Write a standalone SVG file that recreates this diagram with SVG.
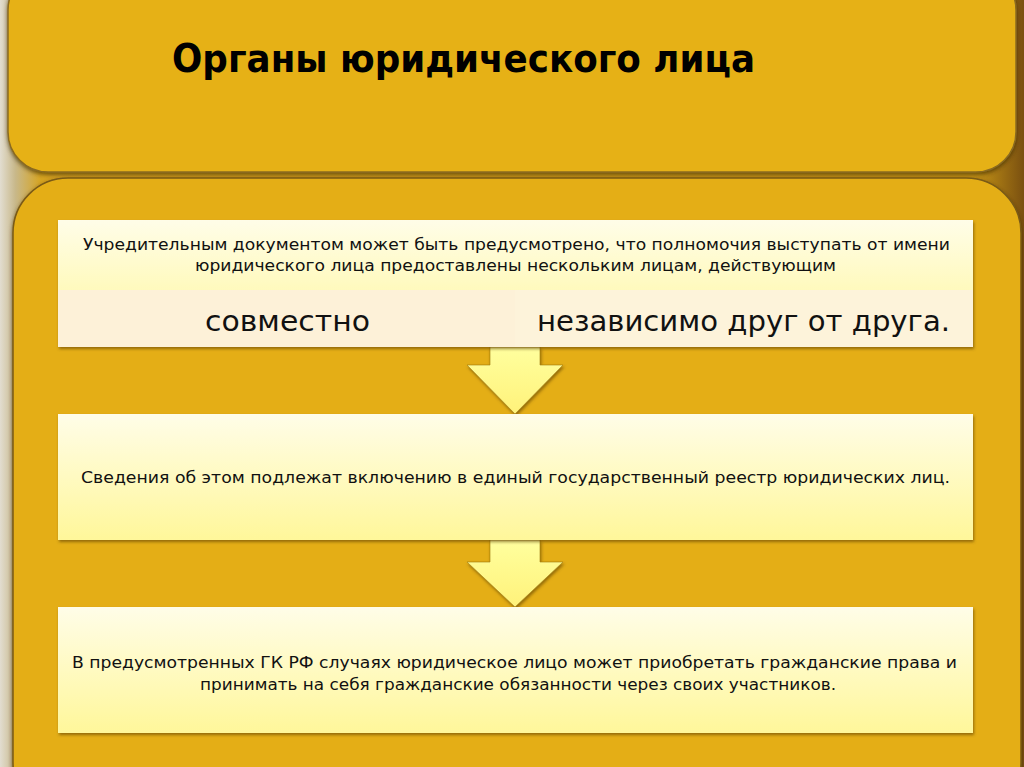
<svg xmlns="http://www.w3.org/2000/svg" width="1024" height="767" viewBox="0 0 1024 767">
<defs>
<linearGradient id="bg" x1="0" y1="0" x2="1" y2="0">
<stop offset="0" stop-color="#e2ddd0"/>
<stop offset="0.015" stop-color="#c8b88a"/>
<stop offset="0.04" stop-color="#d6a420"/>
<stop offset="0.95" stop-color="#c99716"/>
<stop offset="1" stop-color="#7a5010"/>
</linearGradient>
<linearGradient id="box" x1="0" y1="0" x2="0" y2="1">
<stop offset="0" stop-color="#fffde8"/>
<stop offset="1" stop-color="#fff79a"/>
</linearGradient>
<linearGradient id="arr" x1="0" y1="0" x2="0" y2="1">
<stop offset="0" stop-color="#ffff9e"/>
<stop offset="1" stop-color="#fff27a"/>
</linearGradient>
<filter id="sh" x="-5%" y="-10%" width="110%" height="130%">
<feDropShadow dx="1" dy="2" stdDeviation="1.5" flood-color="#5a3a00" flood-opacity="0.6"/>
</filter>
<filter id="psh" x="-5%" y="-10%" width="110%" height="130%">
<feDropShadow dx="0" dy="2" stdDeviation="2" flood-color="#3a2500" flood-opacity="0.7"/>
</filter>
</defs>
<style>
.t{font-family:"DejaVu Sans","Liberation Sans",sans-serif;font-size:15px;fill:#111;}
.big{font-family:"DejaVu Sans","Liberation Sans",sans-serif;font-size:28px;fill:#111;}
.title{font-family:"DejaVu Sans","Liberation Sans",sans-serif;font-size:39px;font-weight:bold;fill:#000;}
.box{fill:url(#box);filter:url(#sh);}
.arrow{fill:url(#arr);stroke:#a07a10;stroke-width:0.6;filter:url(#sh);}
</style>
<rect x="0" y="0" width="1024" height="767" fill="url(#bg)"/>
<g id="top-panel">
<rect x="8" y="-30" width="1008" height="202" rx="40" fill="#e6b117" stroke="#8a6a20" stroke-width="1.5" filter="url(#psh)"/>
<text class="title" x="172" y="72" textLength="583" lengthAdjust="spacingAndGlyphs">Органы юридического лица</text>
</g>
<g id="main-panel">
<rect x="13" y="178" width="1008" height="640" rx="55" fill="#e4ae15" stroke="#7a5a15" stroke-width="1.5" filter="url(#psh)"/>
</g>
<g id="connectors">
<path class="arrow" d="M490 347 L540 347 L540 365 L563 365 L515 414 L467 365 L490 365 Z"/>
<path class="arrow" d="M490 540 L540 540 L540 562 L563 562 L515 607 L467 562 L490 562 Z"/>
</g>
<g id="box1">
<rect class="box" x="58" y="220" width="915" height="127"/>
<rect x="58" y="290" width="457" height="57" fill="#fdf1d8"/>
<rect x="515" y="290" width="458" height="57" fill="#fdf3da"/>
<text class="t" x="83" y="250" textLength="867" lengthAdjust="spacingAndGlyphs">Учредительным документом может быть предусмотрено, что полномочия выступать от имени</text>
<text class="t" x="195" y="271" textLength="641" lengthAdjust="spacingAndGlyphs">юридического лица предоставлены нескольким лицам, действующим</text>
<text class="big" x="205" y="331" textLength="165" lengthAdjust="spacingAndGlyphs">совместно</text>
<text class="big" x="537" y="331" textLength="413" lengthAdjust="spacingAndGlyphs">независимо друг от друга.</text>
</g>
<g id="box2">
<rect class="box" x="58" y="414" width="915" height="126"/>
<text class="t" x="81" y="483" textLength="869" lengthAdjust="spacingAndGlyphs">Сведения об этом подлежат включению в единый государственный реестр юридических лиц.</text>
</g>
<g id="box3">
<rect class="box" x="58" y="607" width="915" height="126"/>
<text class="t" x="72" y="668" textLength="885" lengthAdjust="spacingAndGlyphs">В предусмотренных ГК РФ случаях юридическое лицо может приобретать гражданские права и</text>
<text class="t" x="200" y="690" textLength="636" lengthAdjust="spacingAndGlyphs">принимать на себя гражданские обязанности через своих участников.</text>
</g>
</svg>
